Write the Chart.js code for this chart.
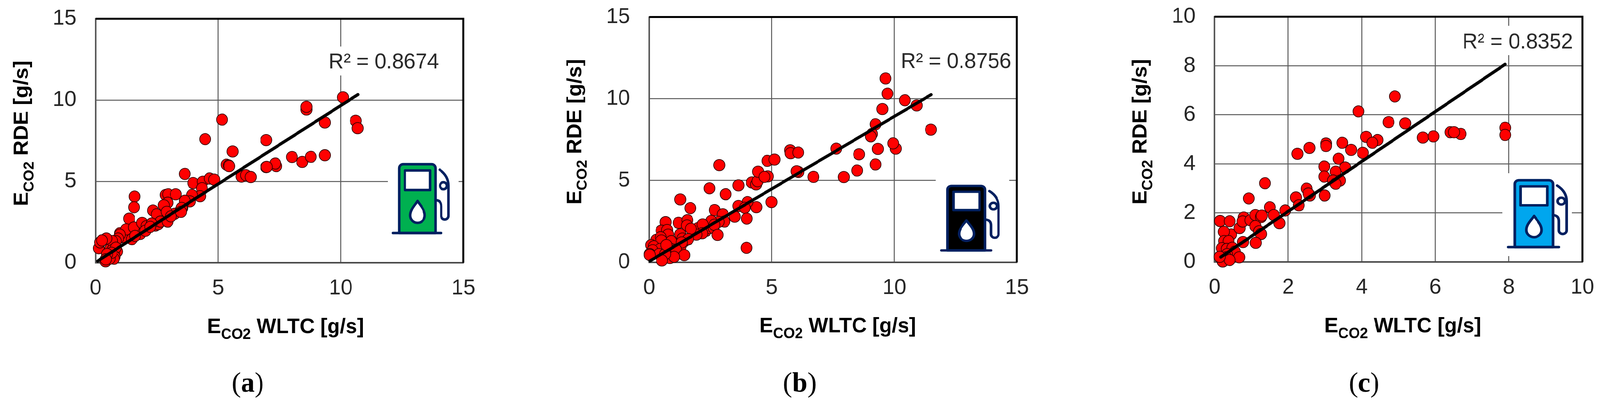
<!DOCTYPE html>
<html><head><meta charset="utf-8">
<style>
html,body{margin:0;padding:0;background:#fff;height:1041px;overflow:hidden}
#page{position:absolute;left:0;top:0;width:4185px;height:1041px;transform-origin:0 0}
canvas{position:absolute;top:0}
</style>
<script src="https://cdn.jsdelivr.net/npm/chart.js@4"></script>
</head><body>
<div id="page">
<div style="position:absolute;left:0;top:0;width:1400px;height:1041px"><canvas id="ca"></canvas></div>
<div style="position:absolute;left:1400px;top:0;width:1450px;height:1041px"><canvas id="cb"></canvas></div>
<div style="position:absolute;left:2850px;top:0;width:1335px;height:1041px"><canvas id="cc"></canvas></div>
</div>
<script>
const aX=[0.99,1.09,1.72,1.82,2.44,2.55,3.22,3.48,3.53,0.6,0.88,0.75,4.47,5.59,5.34,5.43,5.95,6.13,6.33,6.96,6.96,3.64,3.98,4.37,4.65,4.84,4.34,4.26,3.93,3.85,3.64,3.51,3.48,1.59,1.57,1.37,2.86,2.96,3.27,2.94,2.78,2.34,2.49,2.9,2.65,2.94,3.07,1.25,1.56,1.9,2.08,2.29,2.03,2.23,1.48,1.61,0.99,0.92,0.83,0.68,0.13,0.18,0.44,0.26,0.68,0.83,0.78,0.75,0.41,0.57,0.65,0.47,0.42,10.09,8.6,8.6,9.35,10.61,10.69,8.01,8.43,8.78,9.35,7.37,7.33,6.98,5.16,5.45];
const aY=[1.81,1.57,1.89,1.77,2.29,2.37,3.01,3.25,3.37,0.85,0.69,0.53,7.6,6.84,6.03,5.98,5.3,5.38,5.27,7.54,5.88,5.46,4.9,4.98,5.18,5.11,4.58,4.09,4.17,3.77,3.81,3.37,3.13,4.07,3.41,2.71,4.17,4.21,4.21,3.69,3.53,3.21,2.97,3.13,2.53,2.53,2.85,2.05,2.17,2.45,2.25,2.41,1.97,2.21,1.45,1.65,1.73,1.49,1.33,1.33,0.89,1.25,1.49,1.37,0.77,0.93,0.37,0.25,0.09,0.25,0.61,0.53,0.21,10.17,9.42,9.59,8.62,8.73,8.27,6.5,6.2,6.51,6.61,5.94,6.1,5.89,8.8,5.94];
const bX=[0.65,0.84,1.02,1.28,1.43,0.29,2.0,2.32,2.42,2.63,0.24,2.86,1.27,1.68,2.46,3.12,3.64,4.19,4.36,4.42,4.44,4.84,4.7,4.82,5.11,5.75,5.77,6.08,6.09,6.01,6.7,4.99,4.37,4.01,3.64,3.9,3.49,3.98,3.97,2.67,3.0,3.07,2.83,2.53,2.66,2.79,2.18,2.16,1.93,0.67,1.2,1.56,1.54,1.7,1.27,0.5,0.73,0.77,0.47,0.5,0.9,1.36,1.59,1.33,0.08,0.19,0.45,0.14,0.89,1.1,0.02,0.06,1.43,0.84,1.02,0.4,0.65,0.7,0.02,0.52,9.64,9.72,10.43,10.91,11.49,9.51,9.23,9.09,9.04,7.63,8.56,9.33,9.23,8.48,7.94,10.06,9.95];
const bY=[1.05,0.89,1.05,0.97,1.29,1.37,2.09,1.93,2.09,2.09,0.65,5.94,3.84,3.31,4.52,4.16,4.7,4.88,4.76,4.96,5.54,5.25,5.22,6.2,6.28,6.85,6.67,6.71,5.52,5.56,5.22,3.68,3.37,3.68,3.44,3.33,2.79,2.67,0.88,3.19,2.93,2.49,2.47,2.53,2.29,1.67,2.31,1.77,1.69,2.45,2.41,2.57,2.25,2.05,1.71,1.93,1.97,1.69,1.53,1.33,1.29,1.45,1.41,1.21,1.05,0.97,0.81,0.73,0.81,0.77,0.5,0.43,0.43,0.26,0.33,0.5,0.5,1.05,0.45,0.11,11.24,10.31,9.91,9.59,8.11,9.37,8.44,7.85,7.7,6.95,6.6,6.93,5.98,5.61,5.21,6.95,7.27];
const cX=[1.37,0.93,0.15,0.41,0.45,0.25,0.68,0.79,0.76,0.97,1.11,1.26,1.28,1.11,1.21,1.26,0.77,1.12,1.5,1.61,1.76,1.92,2.21,2.29,2.5,2.59,2.55,2.99,2.98,2.98,3.37,3.55,3.29,3.22,3.41,3.29,2.25,2.58,3.03,3.03,3.47,3.71,4.03,4.12,4.43,4.29,0.26,0.38,0.2,0.33,0.48,0.55,0.34,0.31,0.22,0.67,0.41,0.14,4.9,4.73,5.18,5.66,5.95,6.41,6.69,6.51,7.9,7.9,3.91];
const cY=[3.21,2.59,1.67,1.66,1.12,1.23,1.38,1.81,1.65,1.7,1.91,1.83,1.89,1.46,1.25,1.14,0.81,0.78,2.23,1.91,1.58,2.1,2.63,2.31,2.99,2.71,2.79,2.71,3.89,3.48,4.21,3.85,3.68,3.32,3.32,3.19,4.41,4.65,4.83,4.73,4.86,4.57,4.45,5.1,4.97,4.86,0.85,0.85,0.56,0.53,0.58,0.42,0.32,0.19,0.02,0.19,0.08,0.21,6.75,5.7,5.65,5.07,5.12,5.29,5.22,5.29,5.47,5.18,6.14];
const aTrendX=[0.08,10.7], aTrendY=[0.1,10.34];
const bTrendX=[0.03,11.5], bTrendY=[0.08,10.25];
const cTrendX=[0.17,7.9], cTrendY=[0.2,8.06];
const abTicks=[0,5,10,15];
const cTicks=[0,2,4,6,8,10];
const r2Labels=['R² = 0.8674','R² = 0.8756','R² = 0.8352'];
const captions=['a','b','c'];
const xTitle=' WLTC [g/s]', yTitle=' RDE [g/s]', titleE='E', titleSub='CO2';

document.getElementById('page').style.transform='scaleX('+Math.min(1,innerWidth/4185)+')';

const NAVY='#002060';
function pump(ctx,ox,oy,w,h,fill){
  ctx.save();ctx.translate(ox,oy);ctx.scale(w/126,h/176);
  ctx.strokeStyle=NAVY;ctx.lineWidth=6.5;ctx.lineJoin='round';ctx.lineCap='round';
  ctx.beginPath();ctx.roundRect(16,0,95,176,[10,10,0,0]);ctx.fillStyle=fill;ctx.fill();ctx.stroke();
  ctx.beginPath();ctx.rect(31,16,66,50);ctx.fillStyle='#fff';ctx.fill();ctx.stroke();
  ctx.beginPath();ctx.moveTo(0,176);ctx.lineTo(126,176);ctx.stroke();
  ctx.beginPath();ctx.moveTo(64,94);ctx.bezierCurveTo(58,104,45,116,45,131);ctx.arc(64,131,19,Math.PI,0,true);
  ctx.bezierCurveTo(83,116,70,104,64,94);ctx.closePath();ctx.fill();ctx.stroke();
  ctx.beginPath();ctx.moveTo(111,92);ctx.quadraticCurveTo(126,92,126,108);ctx.lineTo(126,132);
  ctx.arc(135.5,132,9.5,Math.PI,0,true);ctx.lineTo(145,55);ctx.quadraticCurveTo(145,30,122,14);ctx.stroke();
  ctx.beginPath();ctx.arc(132,55,9,0,Math.PI*2);ctx.fill();ctx.stroke();
  ctx.restore();
}
function runs(ctx,tail,x,y){
  const main='bold 54px "Liberation Sans"', sub='bold 38px "Liberation Sans"';
  ctx.font=main;const w1=ctx.measureText(titleE).width,w3=ctx.measureText(tail).width;
  ctx.font=sub;const w2=ctx.measureText(titleSub).width;
  let cx=x-(w1+w2+w3)/2;
  ctx.fillStyle='#000';ctx.textAlign='left';ctx.textBaseline='alphabetic';
  ctx.font=main;ctx.fillText(titleE,cx,y);cx+=w1;
  ctx.font=sub;ctx.fillText(titleSub,cx,y+15);cx+=w2;
  ctx.font=main;ctx.fillText(tail,cx,y);
}
const decor={
  id:'decor',
  beforeDatasetsDraw(chart,a,o){
    const ctx=chart.ctx,ca=chart.chartArea,L=o.left;
    ctx.save();
    ctx.strokeStyle='#000';ctx.lineWidth=5;
    ctx.beginPath();ctx.moveTo(ca.left,ca.top);ctx.lineTo(ca.right,ca.top);ctx.lineTo(ca.right,ca.bottom);ctx.stroke();
    ctx.fillStyle='#fff';
    for(const b of o.boxes)ctx.fillRect(b[0]-L,b[1],b[2],b[3]);
    ctx.fillStyle='#2a2a2a';ctx.font='55px "Liberation Sans"';ctx.textAlign='left';ctx.textBaseline='alphabetic';
    ctx.fillText(o.r2,o.r2x-L,o.r2y);
    pump(ctx,o.icon[0]-L,o.icon[1],o.icon[2],o.icon[3],o.fill);
    ctx.restore();
  },
  afterDraw(chart,a,o){
    const ctx=chart.ctx,L=o.left;
    ctx.save();
    runs(ctx,xTitle,o.xt[0]-L,o.xt[1]);
    ctx.save();ctx.translate(o.yt[0]-L,o.yt[1]);ctx.rotate(-Math.PI/2);runs(ctx,yTitle,0,0);ctx.restore();
    ctx.fillStyle='#000';ctx.textBaseline='alphabetic';ctx.textAlign='left';
    const r='72px "Liberation Serif"',bd='bold 72px "Liberation Serif"';
    ctx.font=r;const pw=ctx.measureText('(').width;ctx.font=bd;const lw=ctx.measureText(o.cap).width;
    let cx=o.capx-L-(2*pw+lw)/2;
    ctx.font=r;ctx.fillText('(',cx,1002);cx+=pw;ctx.font=bd;ctx.fillText(o.cap,cx,1002);cx+=lw;ctx.font=r;ctx.fillText(')',cx,1002);
    ctx.restore();
  }
};
function make(id,cfg){
  const H=1041;
  const grid={color:'#5a5a5a',lineWidth:2.5,drawTicks:false};
  const zero=s=>{s.paddingTop=s.paddingBottom=s.paddingLeft=s.paddingRight=0;};
  const tf={family:'"Liberation Sans"',size:56};
  new Chart(document.getElementById(id),{
    type:'scatter',
    data:{datasets:[
      {type:'line',data:cfg.tx.map((x,i)=>({x,y:cfg.ty[i]})),borderColor:'#000',borderWidth:8,borderCapStyle:'round',pointRadius:0,order:0,clip:false},
      {data:cfg.xs.map((x,i)=>({x,y:cfg.ys[i]})),backgroundColor:'#ff0000',borderColor:'#300000',borderWidth:1.8,pointRadius:14.5,order:1,clip:false}
    ]},
    options:{
      responsive:false,animation:false,devicePixelRatio:1,
      layout:{padding:{top:cfg.top,right:cfg.w-(cfg.right-cfg.left),left:0,bottom:0}},
      plugins:{legend:{display:false},tooltip:{enabled:false},decor:cfg.decor},
      scales:{
        x:{type:'linear',min:0,max:cfg.max,afterBuildTicks:s=>{s.ticks=cfg.xticks.map(v=>({value:v}));},
           afterFit:s=>{s.height=H-cfg.bottom;zero(s);},
           grid,border:{color:'#4a4a4a',width:4},
           ticks:{font:tf,color:'#262626',padding:32,maxRotation:0,autoSkip:false}},
        y:{type:'linear',min:0,max:cfg.ymax,afterBuildTicks:s=>{s.ticks=cfg.xticks.map(v=>({value:v}));},
           afterFit:s=>{s.width=cfg.plotLeft;zero(s);},
           grid,border:{color:'#5a5a5a',width:4},
           ticks:{font:tf,color:'#262626',padding:50,autoSkip:false}}
      }
    },
    plugins:[decor]
  });
}
function size(id,w){const c=document.getElementById(id);c.width=w;c.height=1041;c.style.width=w+'px';c.style.height='1041px';}
size('ca',1400);size('cb',1450);size('cc',1335);
make('ca',{xs:aX,ys:aY,tx:aTrendX,ty:aTrendY,max:15,ymax:15,xticks:abTicks,top:48,bottom:672,left:0,right:1212,w:1400,plotLeft:250,
  decor:{left:0,boxes:[[845,119,315,74],[1015,405,185,205]],r2:r2Labels[0],r2x:859,r2y:175,icon:[1028,420,126,176],fill:'#00B050',xt:[747,852],yt:[73,341],cap:captions[0],capx:648}});
make('cb',{xs:bX,ys:bY,tx:bTrendX,ty:bTrendY,max:15,ymax:15,xticks:abTicks,top:43.5,bottom:670.7,left:1400,right:2660,w:1450,plotLeft:298,
  decor:{left:1400,boxes:[[2345,119,305,74],[2447.5,458,192,192]],r2:r2Labels[1],r2x:2356,r2y:174,icon:[2462,475.5,130,165],fill:'#000000',xt:[2191,850],yt:[1520,337],cap:captions[1],capx:2092}});
make('cc',{xs:cX,ys:cY,tx:cTrendX,ty:cTrendY,max:10,ymax:10,xticks:cTicks,top:42.7,bottom:670,left:2850,right:4139,w:1335,plotLeft:327,
  decor:{left:2850,boxes:[[3815,66,310,75],[3930,443,181,212]],r2:r2Labels[2],r2x:3825,r2y:124,icon:[3945,461,132.6,171],fill:'#00A6EE',xt:[3669,850],yt:[2999,337],cap:captions[2],capx:3568}});
</script>
</body></html>
